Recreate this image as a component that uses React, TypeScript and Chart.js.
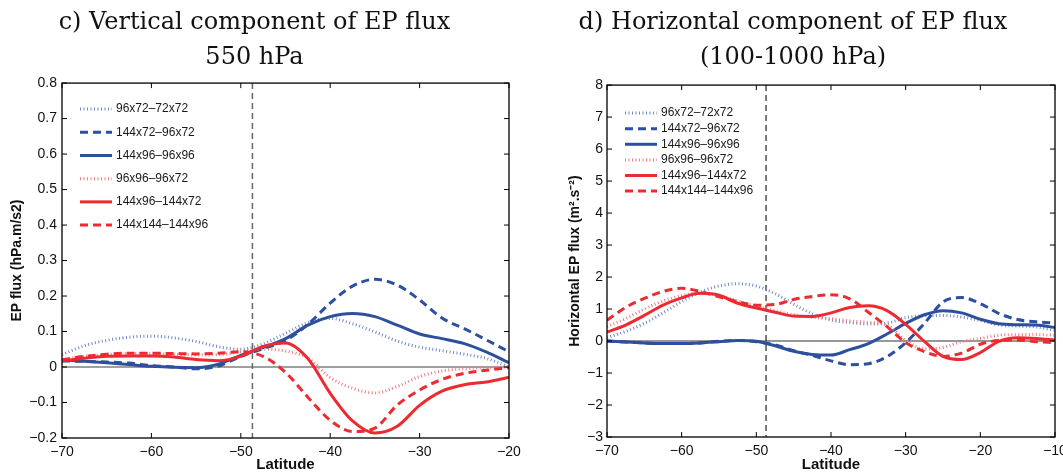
import React, { useEffect, useRef } from "react";
import { Chart, registerables } from "chart.js";

Chart.register(...registerables);

// ---------- Panel c) vertical component of EP flux, 550 hPa ----------
const latC = [-70, -67.5, -65, -62.5, -60, -57.5, -55, -52.5, -50, -47.5, -45, -42.5, -40, -37.5, -35, -32.5, -30, -27.5, -25, -22.5, -20];
const vert96x72_72x72 = [0.035, 0.06, 0.075, 0.084, 0.087, 0.082, 0.072, 0.057, 0.05, 0.065, 0.095, 0.125, 0.137, 0.122, 0.099, 0.073, 0.056, 0.046, 0.036, 0.024, 0.0];
const vert144x72_96x72 = [0.017, 0.016, 0.014, 0.011, 0.004, 0.0, -0.005, 0.003, 0.03, 0.052, 0.075, 0.12, 0.18, 0.228, 0.247, 0.231, 0.189, 0.138, 0.108, 0.076, 0.043];
const vert144x96_96x96 = [0.02, 0.016, 0.012, 0.007, 0.002, -0.001, -0.002, 0.008, 0.033, 0.055, 0.08, 0.118, 0.142, 0.151, 0.142, 0.118, 0.093, 0.08, 0.066, 0.042, 0.012];
const vert96x96_96x72 = [0.022, 0.03, 0.035, 0.038, 0.038, 0.036, 0.034, 0.035, 0.042, 0.05, 0.045, 0.025, -0.03, -0.06, -0.073, -0.055, -0.027, -0.011, -0.005, -0.002, 0.0];
const vert144x96_144x72 = [0.017, 0.025, 0.03, 0.031, 0.031, 0.028, 0.021, 0.018, 0.03, 0.058, 0.068, 0.024, -0.074, -0.152, -0.186, -0.167, -0.108, -0.068, -0.05, -0.042, -0.029];
const vert144x144_144x96 = [0.02, 0.03, 0.036, 0.039, 0.039, 0.038, 0.037, 0.039, 0.043, 0.03, -0.015, -0.085, -0.15, -0.182, -0.172, -0.107, -0.065, -0.035, -0.018, -0.009, -0.002];

// ---------- Panel d) horizontal component of EP flux, 100-1000 hPa ----------
const latD = [-70, -67.5, -65, -62.5, -60, -57.5, -55, -52.5, -50, -47.5, -45, -42.5, -40, -37.5, -35, -32.5, -30, -27.5, -25, -22.5, -20, -17.5, -15, -12.5, -10];
const horiz96x72_72x72 = [0.1, 0.3, 0.55, 0.88, 1.23, 1.53, 1.72, 1.79, 1.72, 1.48, 1.15, 0.85, 0.65, 0.58, 0.53, 0.56, 0.73, 0.79, 0.8, 0.75, 0.64, 0.5, 0.47, 0.44, 0.33];
const horiz144x72_96x72 = [0.0, -0.03, -0.06, -0.08, -0.08, -0.06, -0.01, 0.02, -0.02, -0.12, -0.3, -0.45, -0.62, -0.74, -0.71, -0.49, -0.05, 0.55, 1.22, 1.36, 1.17, 0.86, 0.67, 0.6, 0.56];
const horiz144x96_96x96 = [0.0, -0.03, -0.06, -0.08, -0.08, -0.06, -0.02, 0.02, -0.01, -0.15, -0.32, -0.42, -0.44, -0.27, -0.08, 0.22, 0.55, 0.82, 0.95, 0.88, 0.68, 0.54, 0.51, 0.5, 0.42];
const horiz96x96_96x72 = [0.45, 0.7, 1.0, 1.25, 1.42, 1.5, 1.42, 1.25, 1.08, 0.95, 0.82, 0.74, 0.7, 0.63, 0.58, 0.5, 0.02, -0.25, -0.2, -0.02, 0.08, 0.18, 0.2, 0.2, 0.18];
const horiz144x96_144x72 = [0.28, 0.5, 0.8, 1.12, 1.35, 1.49, 1.43, 1.18, 1.03, 0.9, 0.78, 0.77, 0.88, 1.05, 1.1, 0.95, 0.52, -0.01, -0.48, -0.58, -0.36, -0.01, 0.1, 0.08, 0.03];
const horiz144x144_144x96 = [0.65, 1.05, 1.33, 1.55, 1.65, 1.55, 1.38, 1.23, 1.12, 1.14, 1.3, 1.39, 1.45, 1.32, 0.9, 0.45, -0.05, -0.33, -0.48, -0.38, -0.1, 0.02, 0.03, -0.02, -0.05];

const seriesLabels = ["96x72\u201372x72", "144x72\u201396x72", "144x96\u201396x96", "96x96\u201396x72", "144x96\u2013144x72", "144x144\u2013144x96"];

const titleC = ["c) Vertical component of EP flux", "550 hPa"];
const titleD = ["d) Horizontal component of EP flux", "(100-1000 hPa)"];
const yTitleC = "EP flux (hPa.m/s2)";
const yTitleD = "Horizontal EP flux (m\u00B2.s\u207B\u00B2)";
const xTitle = "Latitude";
const refLatitude = -48.7;

const BLUE = "#2d4f9e";
const RED = "#ed2a30";
const STYLES = [
  { color: "#6f88c8", width: 3, dash: [1, 2.5] },
  { color: BLUE, width: 3, dash: [8, 5] },
  { color: BLUE, width: 3, dash: [] as number[] },
  { color: "#f27a80", width: 3, dash: [1, 2.5] },
  { color: RED, width: 3, dash: [] as number[] },
  { color: RED, width: 3, dash: [8, 5] },
];

const SANS = "'Liberation Sans', Arial, sans-serif";

type PanelCfg = {
  title: string[];
  lat: number[];
  series: number[][];
  xMin: number;
  xMax: number;
  yMin: number;
  yMax: number;
  yStep: number;
  decimals: boolean;
  yTitle: string;
  padLeft: number;
  padRight: number;
  axisW: number;
  axisH: number;
  titleBottom: number;
  yTitlePad: number;
  yTickPad: number;
  legendDx: number;
  legendDy: number;
  legendPitch: number;
  zeroColor: string;
  zeroWidth: number;
  vColor: string;
  vWidth: number;
};

const PANEL_C: PanelCfg = {
  title: titleC,
  lat: latC,
  series: [vert96x72_72x72, vert144x72_96x72, vert144x96_96x96, vert96x96_96x72, vert144x96_144x72, vert144x144_144x96],
  xMin: -70, xMax: -20, yMin: -0.2, yMax: 0.8, yStep: 0.1, decimals: true,
  yTitle: yTitleC,
  padLeft: 0, padRight: 22, axisW: 62, axisH: 34, titleBottom: 8,
  yTitlePad: 9, yTickPad: 5,
  legendDx: 18, legendDy: 26, legendPitch: 23.2,
  zeroColor: "#7f7f7f", zeroWidth: 1.5, vColor: "#666", vWidth: 1.5,
};

const PANEL_D: PanelCfg = {
  title: titleD,
  lat: latD,
  series: [horiz96x72_72x72, horiz144x72_96x72, horiz144x96_96x96, horiz96x96_96x72, horiz144x96_144x72, horiz144x144_144x96],
  xMin: -70, xMax: -10, yMin: -3, yMax: 8, yStep: 1, decimals: false,
  yTitle: yTitleD,
  padLeft: 0, padRight: 8, axisW: 76, axisH: 35, titleBottom: 10,
  yTitlePad: 36, yTickPad: 4,
  legendDx: 18, legendDy: 28, legendPitch: 15.6,
  zeroColor: "#333", zeroWidth: 1.2, vColor: "#222", vWidth: 1.2,
};

function fmt(v: number, decimals: boolean) {
  if (Math.abs(v) < 1e-9) return "0";
  const s = decimals ? Math.abs(v).toFixed(1) : String(Math.round(Math.abs(v)));
  return v < 0 ? "\u2212" + s : s;
}

function decorPlugin(cfg: PanelCfg) {
  return {
    id: "decor",
    beforeDatasetsDraw(chart: any) {
      const { ctx, chartArea: a, scales } = chart;
      ctx.save();
      ctx.beginPath();
      ctx.rect(a.left, a.top, a.right - a.left, a.bottom - a.top);
      ctx.clip();
      const y0 = scales.y.getPixelForValue(0);
      ctx.strokeStyle = cfg.zeroColor;
      ctx.lineWidth = cfg.zeroWidth;
      ctx.beginPath();
      ctx.moveTo(a.left, y0);
      ctx.lineTo(a.right, y0);
      ctx.stroke();
      const xv = scales.x.getPixelForValue(refLatitude);
      ctx.setLineDash([6, 4]);
      ctx.strokeStyle = cfg.vColor;
      ctx.lineWidth = cfg.vWidth;
      ctx.beginPath();
      ctx.moveTo(xv, a.top);
      ctx.lineTo(xv, a.bottom);
      ctx.stroke();
      ctx.restore();
    },
    afterDraw(chart: any) {
      const { ctx, chartArea: a, scales } = chart;
      ctx.save();
      ctx.strokeStyle = "#000";
      ctx.lineWidth = 1.3;
      ctx.setLineDash([]);
      ctx.strokeRect(a.left, a.top, a.right - a.left, a.bottom - a.top);
      const tl = 5;
      ctx.lineWidth = 1;
      ctx.beginPath();
      for (const t of scales.y.ticks) {
        const py = scales.y.getPixelForValue(t.value);
        ctx.moveTo(a.left, py);
        ctx.lineTo(a.left + tl, py);
        ctx.moveTo(a.right, py);
        ctx.lineTo(a.right - tl, py);
      }
      for (const t of scales.x.ticks) {
        const px = scales.x.getPixelForValue(t.value);
        ctx.moveTo(px, a.bottom);
        ctx.lineTo(px, a.bottom - tl);
        ctx.moveTo(px, a.top);
        ctx.lineTo(px, a.top + tl);
      }
      ctx.stroke();

      // legend
      const x0 = a.left + cfg.legendDx;
      chart.data.datasets.forEach((ds: any, i: number) => {
        const y = a.top + cfg.legendDy + i * cfg.legendPitch;
        ctx.strokeStyle = ds.borderColor;
        ctx.lineWidth = ds.borderWidth;
        ctx.setLineDash(ds.borderDash || []);
        ctx.beginPath();
        ctx.moveTo(x0, y);
        ctx.lineTo(x0 + 32, y);
        ctx.stroke();
        ctx.setLineDash([]);
        ctx.fillStyle = "#1a1a1a";
        ctx.font = `12px ${SANS}`;
        ctx.textAlign = "left";
        ctx.textBaseline = "middle";
        ctx.fillText(ds.label, x0 + 36, y);
      });
      ctx.restore();
    },
  };
}

function Panel({ cfg, width }: { cfg: PanelCfg; width: number }) {
  const ref = useRef<HTMLCanvasElement | null>(null);
  useEffect(() => {
    if (!ref.current) return;
    const datasets = cfg.series.map((s, i) => ({
      label: seriesLabels[i],
      data: cfg.lat.map((x, j) => ({ x, y: s[j] })),
      borderColor: STYLES[i].color,
      borderWidth: STYLES[i].width,
      borderDash: STYLES[i].dash,
      borderCapStyle: "butt",
      pointRadius: 0,
      fill: false,
      cubicInterpolationMode: "monotone",
      order: cfg.series.length - i,
    }));
    const chart = new Chart(ref.current, {
      type: "line",
      data: { datasets } as any,
      options: {
        responsive: false,
        animation: false,
        events: [],
        layout: { padding: { left: cfg.padLeft, right: cfg.padRight, top: 0, bottom: 0 } },
        plugins: {
          legend: { display: false },
          tooltip: { enabled: false },
          title: {
            display: true,
            text: cfg.title,
            color: "#111",
            font: { family: "'DejaVu Serif', serif", size: 24, weight: "normal", lineHeight: 1.46 },
            padding: { top: 5, bottom: cfg.titleBottom },
          },
        },
        scales: {
          x: {
            type: "linear",
            min: cfg.xMin,
            max: cfg.xMax,
            ticks: {
              stepSize: 10,
              autoSkip: false,
              maxRotation: 0,
              padding: 6,
              color: "#111",
              font: { family: SANS, size: 14 },
              callback: (v: any) => fmt(Number(v), false),
            },
            grid: { display: false, drawTicks: false },
            border: { display: false },
            title: {
              display: true,
              text: xTitle,
              color: "#111",
              font: { family: SANS, size: 15, weight: "bold", lineHeight: 1 },
              padding: { top: 0, bottom: 0 },
            },
            afterFit: (s: any) => {
              s.height = cfg.axisH;
              s.paddingLeft = 0;
              s.paddingRight = 0;
            },
          },
          y: {
            type: "linear",
            min: cfg.yMin,
            max: cfg.yMax,
            ticks: {
              stepSize: cfg.yStep,
              autoSkip: false,
              padding: cfg.yTickPad,
              color: "#111",
              font: { family: SANS, size: 14 },
              callback: (v: any) => fmt(Number(v), cfg.decimals),
            },
            grid: { display: false, drawTicks: false },
            border: { display: false },
            title: {
              display: true,
              text: cfg.yTitle,
              color: "#111",
              font: { family: SANS, size: 14, weight: "bold", lineHeight: 1.2 },
              padding: { top: cfg.yTitlePad, bottom: 0 },
            },
            afterFit: (s: any) => {
              s.width = cfg.axisW;
              s.paddingTop = 0;
              s.paddingBottom = 0;
            },
          },
        },
      } as any,
      plugins: [decorPlugin(cfg)],
    });
    return () => chart.destroy();
  }, [cfg]);
  return <canvas ref={ref} width={width} height={472} style={{ display: "block", width, height: 472 }} />;
}

export default function App() {
  return (
    <div style={{ position: "absolute", left: 0, top: 0, width: 1063, height: 472, display: "flex", background: "#fff" }}>
      <Panel cfg={PANEL_C} width={531} />
      <Panel cfg={PANEL_D} width={532} />
    </div>
  );
}
